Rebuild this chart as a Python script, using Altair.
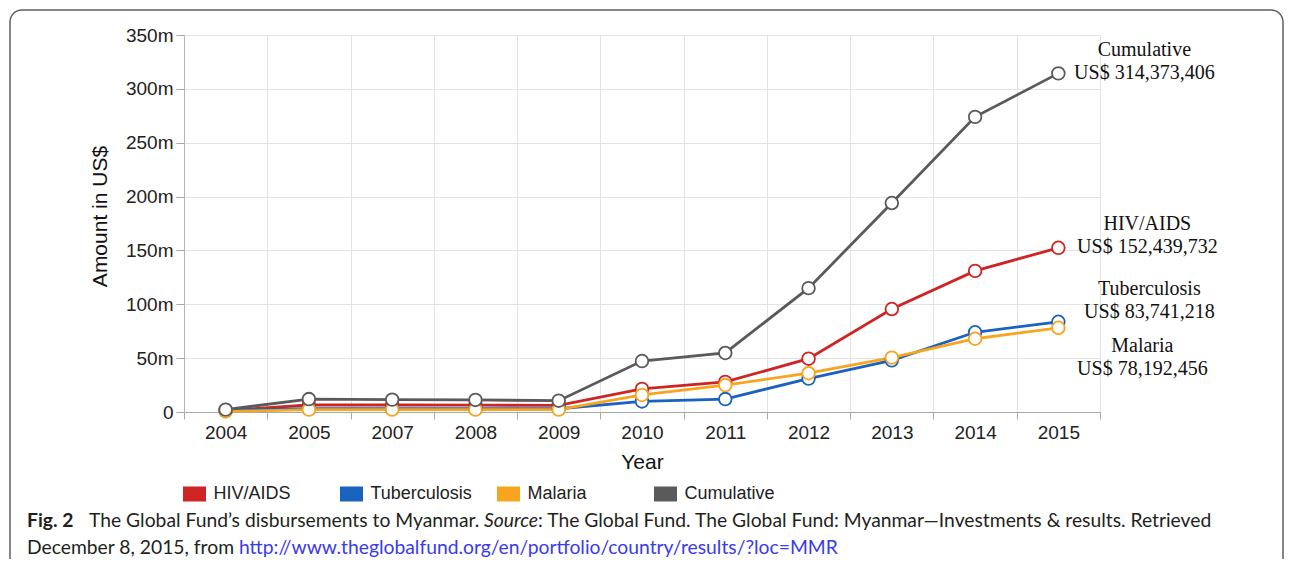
import altair as alt
import pandas as pd

years = ["2004", "2005", "2007", "2008", "2009", "2010", "2011", "2012", "2013", "2014", "2015"]
series_names = ["HIV/AIDS", "Tuberculosis", "Malaria", "Cumulative"]
series_colors = ["#cf2424", "#1a62bf", "#f7a51f", "#5a5a5a"]

# values in millions of US$
hiv = [1.5, 6.5, 6.5, 6.3, 6.2, 21.4, 27.9, 49.5, 95.6, 131.0, 152.439732]
tuberculosis = [1.8, 3.0, 3.0, 3.0, 3.0, 9.8, 12.0, 31.0, 48.0, 74.0, 83.741218]
malaria = [0.5, 2.2, 2.2, 2.2, 2.2, 15.8, 25.0, 36.0, 50.5, 68.0, 78.192456]
cumulative = [2.2, 12.0, 11.5, 11.2, 10.5, 47.3, 54.8, 115.0, 194.0, 274.0, 314.373406]

end_labels = ["US$ 152,439,732", "US$ 83,741,218", "US$ 78,192,456", "US$ 314,373,406"]

caption_fig = "Fig. 2"
caption_a = "The Global Fund\u2019s disbursements to Myanmar."
caption_source = "Source"
caption_b = ": The Global Fund. The Global Fund: Myanmar\u2014Investments & results. Retrieved"
caption_c = "December 8, 2015, from"
caption_link = "http://www.theglobalfund.org/en/portfolio/country/results/?loc=MMR"

all_values = [hiv, tuberculosis, malaria, cumulative]
rows = []
for name, vals in zip(series_names, all_values):
    for yr, v in zip(years, vals):
        rows.append({"Year": yr, "Amount": v, "Series": name})
df = pd.DataFrame(rows)

x_enc = alt.X(
    "Year:N",
    sort=years,
    scale=alt.Scale(type="band", paddingInner=0, paddingOuter=0),
    axis=alt.Axis(
        title="Year",
        labelAngle=0,
        tickBand="extent",
        grid=True,
        gridColor="#e3e3e3",
        domainColor="#a8a8a8",
        tickColor="#a8a8a8",
        tickSize=7,
        labelPadding=4,
        labelFont="Liberation Sans",
        labelFontSize=19,
        labelColor="#222222",
        titleFont="Liberation Sans",
        titleFontSize=21,
        titleFontWeight="normal",
        titleColor="#111111",
        titleY=50,
        titleBaseline="middle",
    ),
)
y_enc = alt.Y(
    "Amount:Q",
    scale=alt.Scale(domain=[0, 350], nice=False),
    axis=alt.Axis(
        title="Amount in US$",
        values=[0, 50, 100, 150, 200, 250, 300, 350],
        labelExpr="datum.value == 0 ? '0' : datum.value + 'm'",
        grid=True,
        gridColor="#e3e3e3",
        domainColor="#b5b5b5",
        tickColor="#a8a8a8",
        tickSize=8,
        labelPadding=3,
        labelFont="Liberation Sans",
        labelFontSize=19,
        labelColor="#222222",
        titleFont="Liberation Sans",
        titleFontSize=21,
        titleFontWeight="normal",
        titleColor="#111111",
        titleAngle=-90,
        titleX=-84,
        titleY=181,
        titleAlign="center",
        titleBaseline="middle",
    ),
)

color_scale = alt.Scale(domain=series_names, range=series_colors)

lines = alt.Chart(df).mark_line(strokeWidth=2.8).encode(
    x=x_enc,
    y=y_enc,
    color=alt.Color(
        "Series:N",
        scale=color_scale,
        sort=series_names,
        legend=alt.Legend(
            title=None,
            orient="none",
            legendX=-8.5,
            legendY=440,
            direction="horizontal",
            columns=4,
            gridAlign="all",
            columnPadding=-6,
            padding=0,
            symbolType="stroke",
            symbolSize=529,
            symbolStrokeWidth=15,
            labelFont="Liberation Sans",
            labelFontSize=18,
            labelColor="#222222",
            labelOffset=0,
        ),
    ),
)

points = alt.Chart(df).mark_point(
    shape="circle", size=160, strokeWidth=1.8, fill="white", fillOpacity=1, opacity=1
).encode(
    x=alt.X("Year:N", sort=years),
    y="Amount:Q",
    stroke=alt.Stroke("Series:N", scale=color_scale, legend=None),
)

# end-of-line annotations
ann_layers = []
ann_offsets = {
    "HIV/AIDS": (89, -24),
    "Tuberculosis": (91, -33),
    "Malaria": (84, 18),
    "Cumulative": (86, -23),
}
for name, vals, lab in zip(series_names, all_values, end_labels):
    adf = pd.DataFrame({"Year": [years[-1]], "Amount": [vals[-1]], "label": [[name, lab]]})
    dx, dy = ann_offsets[name]
    ann_layers.append(
        alt.Chart(adf).mark_text(
            font="Liberation Serif", fontSize=20, color="#111111",
            align="center", baseline="middle", lineHeight=23, dx=dx, dy=dy,
        ).encode(x=alt.X("Year:N", sort=years), y="Amount:Q", text="label")
    )

# figure frame
frame = alt.Chart(pd.DataFrame({"a": [0]})).mark_rect(
    fillOpacity=0, stroke="#5f5f5f", strokeWidth=1.5, cornerRadius=12
).encode(x=alt.value(-174), x2=alt.value(1099), y=alt.value(-25), y2=alt.value(560))


def cap(text, x, y, **kw):
    style = dict(font="Lato", fontSize=19.3, color="#231f20", align="left", baseline="alphabetic")
    style.update(kw)
    return alt.Chart(pd.DataFrame({"t": [text]})).mark_text(**style).encode(
        text="t:N", x=alt.value(x), y=alt.value(y)
    )


captions = [
    cap(caption_fig, -157, 492, fontWeight="bold"),
    cap(caption_a, -95, 492),
    cap(caption_source, 300, 492, fontStyle="italic"),
    cap(caption_b, 354, 492),
    cap(caption_c, -157, 519),
    cap(caption_link, 55, 519, color="#3a3af0"),
]

chart = alt.layer(frame, lines, points, *ann_layers, *captions).properties(
    width=916,
    height=377,
    autosize=alt.AutoSizeParams(type="none"),
    padding={"left": 176, "top": 27, "right": 185, "bottom": 147},
).configure_view(strokeOpacity=0).configure(background="white")

chart.save("out.html", embed_options={"renderer": "svg", "actions": False})
